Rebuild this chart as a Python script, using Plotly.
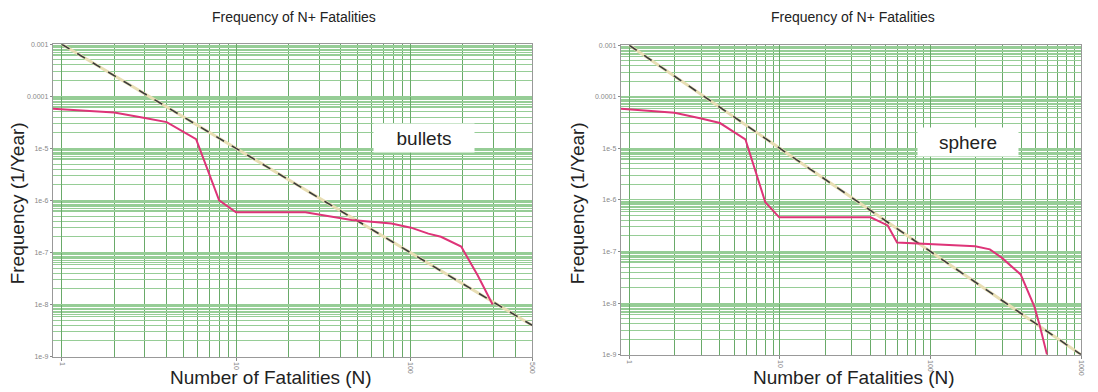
import numpy as np
import plotly.graph_objects as go

# ---------------- data ----------------
n_bullets = [0.89, 2, 3, 4, 5.9, 8, 10, 25, 46, 60, 78, 101, 127, 150, 196, 244, 297]
f_bullets = [5.8e-5, 4.9e-5, 3.85e-5, 3.2e-5, 1.5e-5, 1.0e-6, 5.9e-7, 5.9e-7, 4.2e-7,
             3.9e-7, 3.6e-7, 3.0e-7, 2.3e-7, 2.0e-7, 1.3e-7, 3.6e-8, 1.0e-8]

n_sphere = [0.88, 2, 3, 4, 5.9, 8, 9.9, 40, 52, 60, 198, 248, 297, 397, 490, 530, 594]
f_sphere = [5.9e-5, 4.9e-5, 3.8e-5, 3.1e-5, 1.5e-5, 9.0e-7, 4.6e-7, 4.6e-7, 3.2e-7,
            1.5e-7, 1.26e-7, 1.1e-7, 7.6e-8, 3.6e-8, 8.5e-9, 3.8e-9, 1.0e-9]

# criterion line F = 1e-3 / N^2
crit_left_n = [1, 500]
crit_left_f = [1e-3, 4e-9]
crit_right_n = [1, 1000]
crit_right_f = [1e-3, 1e-9]

y_tickvals = [1e-3, 1e-4, 1e-5, 1e-6, 1e-7, 1e-8, 1e-9]
y_ticktext = ["0.001", "0.0001", "1e-5", "1e-6", "1e-7", "1e-8", "1e-9"]
x_left_tickvals = [1, 10, 100, 500]
x_left_ticktext = ["1", "10", "100", "500"]
x_right_tickvals = [1, 10, 100, 1000]
x_right_ticktext = ["1", "10", "100", "1000"]

title_text = "Frequency of N+ Fatalities"
xtitle = "Number of Fatalities (N)"
ytitle = "Frequency (1/Year)"
labels = ["bullets", "sphere"]

# ---------------- styling ----------------
W, H = 1098, 392
FONT = "Arial, Liberation Sans, sans-serif"
PINK = "rgb(222,52,120)"
VGRID = "rgb(105,170,105)"
HGRID = "rgb(150,205,150)"

def y_minor():
    vals = []
    for e in range(-9, -3):
        for m in [2, 3, 4, 5, 6, 6.5, 7, 7.5, 8, 8.5, 9, 9.5]:
            vals.append(m * 10.0 ** e)
    return vals

def x_minor(maxv):
    vals = []
    for e in range(0, 3):
        for m in range(2, 10):
            v = m * 10 ** e
            if v <= maxv:
                vals.append(v)
    return vals

fig = go.Figure()

def add_panel(xa, ya, n, f, cn, cf):
    fig.add_trace(go.Scatter(x=cn, y=cf, mode="lines", xaxis=xa, yaxis=ya,
                             line=dict(color="rgb(232,222,180)", width=3), showlegend=False))
    fig.add_trace(go.Scatter(x=cn, y=cf, mode="lines", xaxis=xa, yaxis=ya,
                             line=dict(color="rgb(60,60,60)", width=1.6, dash="dash"),
                             showlegend=False))
    fig.add_trace(go.Scatter(x=n, y=f, mode="lines", xaxis=xa, yaxis=ya,
                             line=dict(color=PINK, width=2), showlegend=False))

add_panel("x", "y", n_bullets, f_bullets, crit_left_n, crit_left_f)
add_panel("x2", "y2", n_sphere, f_sphere, crit_right_n, crit_right_f)

# pixel geometry
L = dict(x0=53, x1=534, y0=41, y1=359, xlo=-0.0515, xhi=np.log10(500),
         title_cx=295, xt_cx=272, yt_x=17, box=(426, 136))
R = dict(x0=623, x1=1085, y0=42, y1=357, xlo=-0.057, xhi=3.0,
         title_cx=856, xt_cx=857, yt_x=579, box=(972, 140))

def xaxis(p, tv, tt, maxv, anchor):
    return dict(type="log", range=[p["xlo"], p["xhi"]], domain=[p["x0"] / W, p["x1"] / W],
                anchor=anchor, tickvals=tv, ticktext=tt, tickangle=90,
                tickfont=dict(size=7, color="#888", family=FONT),
                ticks="outside", ticklen=3, tickcolor="#888",
                showgrid=True, gridcolor=VGRID, gridwidth=1,
                minor=dict(tickvals=x_minor(maxv), showgrid=True, gridcolor=VGRID,
                           gridwidth=1, ticks=""),
                showline=True, mirror=True, linecolor="#999", linewidth=1,
                zeroline=False)

def yaxis(p, anchor):
    return dict(type="log", range=[-9, -3], domain=[1 - p["y1"] / H, 1 - p["y0"] / H],
                anchor=anchor, tickvals=y_tickvals, ticktext=y_ticktext,
                tickfont=dict(size=7, color="#888", family=FONT),
                ticks="outside", ticklen=2, tickcolor="#888",
                showgrid=True, gridcolor=HGRID, gridwidth=1,
                minor=dict(tickvals=y_minor(), showgrid=True, gridcolor=HGRID,
                           gridwidth=1, ticks=""),
                showline=True, mirror=True, linecolor="#999", linewidth=1,
                zeroline=False)

annotations = []
for p, lab in [(L, labels[0]), (R, labels[1])]:
    annotations.append(dict(text=title_text, x=p["title_cx"] / W, y=1 - 13 / H,
                            xref="paper", yref="paper",
                            showarrow=False, xanchor="center", yanchor="middle",
                            font=dict(size=14, color="#222", family=FONT)))
    annotations.append(dict(text=xtitle, x=p["xt_cx"] / W, y=1 - 380 / H,
                            xref="paper", yref="paper",
                            showarrow=False, xanchor="center", yanchor="middle",
                            font=dict(size=19, color="#222", family=FONT)))
    annotations.append(dict(text=ytitle, x=p["yt_x"] / W, y=1 - 203 / H,
                            xref="paper", yref="paper", textangle=-90,
                            showarrow=False, xanchor="center", yanchor="middle",
                            font=dict(size=19, color="#222", family=FONT)))
    bx, by = p["box"]
    annotations.append(dict(text=lab, x=bx / W, y=1 - by / H, xref="paper", yref="paper",
                            showarrow=False, xanchor="center", yanchor="middle",
                            bgcolor="white", borderpad=3, width=94, height=22,
                            font=dict(size=19, color="#222", family=FONT)))

fig.update_layout(
    width=W, height=H, margin=dict(l=0, r=0, t=0, b=0),
    paper_bgcolor="white", plot_bgcolor="white",
    xaxis=xaxis(L, x_left_tickvals, x_left_ticktext, 500, "y"),
    yaxis=yaxis(L, "x"),
    xaxis2=xaxis(R, x_right_tickvals, x_right_ticktext, 1000, "y2"),
    yaxis2=yaxis(R, "x2"),
    annotations=annotations,
    showlegend=False,
)

fig.write_html("out.html")
